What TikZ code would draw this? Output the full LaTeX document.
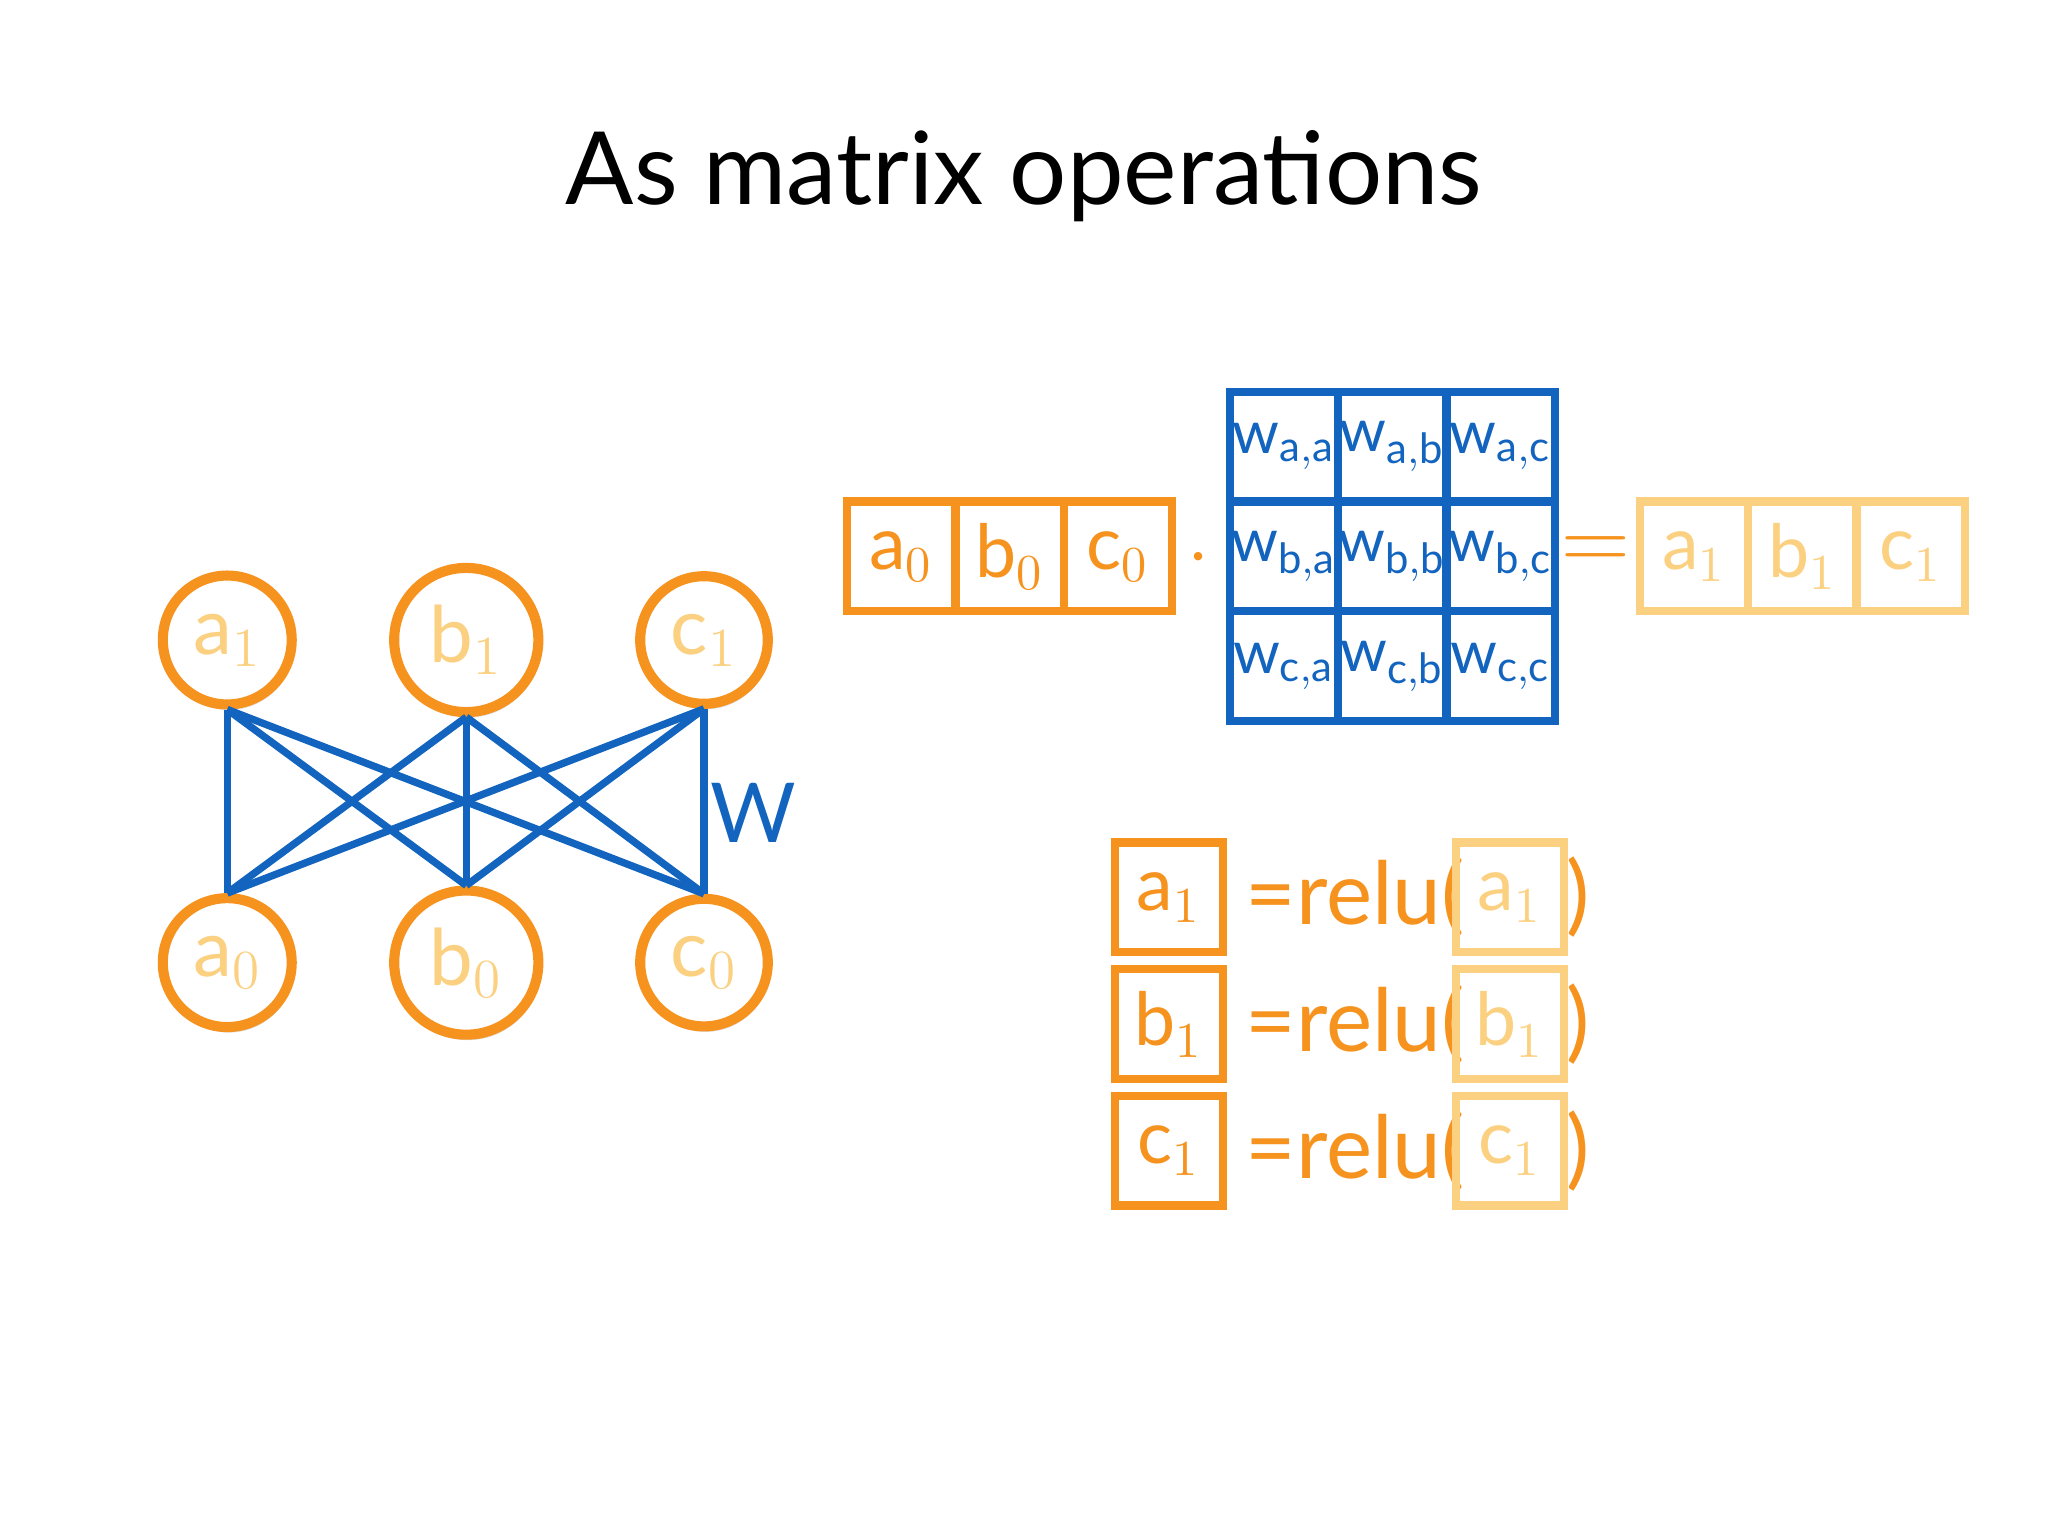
\documentclass[tikz,border=0pt]{standalone}
\usepackage{fontspec}
\setmainfont{Lato}
\usetikzlibrary{shadows}
\definecolor{orng}{RGB}{246,146,30}
\definecolor{lorng}{RGB}{251,208,128}
\definecolor{wblue}{RGB}{18,100,190}
\tikzset{
  unit/.style={draw=orng, line width=2.2pt, circle, fill=white, minimum size=0.94cm,
    text=lorng, font=\fontsize{17}{17}\selectfont, drop shadow={opacity=0.25, shadow xshift=0.4pt, shadow yshift=-1.2pt}},
  cell/.style={draw=orng, line width=1.8pt, minimum width=0.83cm, minimum height=0.84cm,
    text=orng, font=\fontsize{16}{16}\selectfont, inner sep=0pt},
  lcell/.style={cell, draw=lorng, text=lorng},
  wcell/.style={draw=wblue, line width=1.8pt, minimum width=0.83cm, minimum height=0.84cm,
    text=wblue, font=\fontsize{13}{13}\selectfont, inner sep=0pt},
  wire/.style={draw=wblue, line width=1.6pt},
  relu/.style={text=orng, font=\fontsize{19}{19}\selectfont, inner sep=0pt}
}
\begin{document}
\begin{tikzpicture}[x=0.01cm, y=-0.01cm]
\useasboundingbox (0,0) rectangle (1568,1176);
\node (title) at (784,135) {\fontsize{22}{22}\selectfont As matrix operations};
% network
\foreach \n/\x in {a/174,b/357,c/539} {
    \node[unit] (\n1) at (\x,490) {$\mathrm{\n}_1$};
    \node[unit] (\n0) at (\x,737) {$\mathrm{\n}_0$};
}
\foreach \s in {a,b,c} {
    \foreach \t in {a,b,c} {
        \draw[wire] (\s0.north) -- (\t1.south);
    }
}
\node[text=wblue, font=\fontsize{18}{18}\selectfont] (w) at (577,622) {W};
% row vector times matrix
\foreach \n/\x in {a/690,b/773,c/856} {
    \node[cell] (v\n) at (\x,426) {$\mathrm{\n}_0$};
    \node[lcell] (r\n) at (\x+607,426) {$\mathrm{\n}_1$};
}
\node[orng, font=\fontsize{16}{16}\selectfont] (dot) at (918,428) {$\cdot$};
\foreach \r/\y in {a/342,b/426,c/510} {
    \foreach \c/\x in {a/983,b/1066,c/1149} {
        \node[wcell] (m\r\c) at (\x,\y) {$\mathrm{w}_{\mathrm{\r,\c}}$};
    }
}
\node[text=orng, font=\fontsize{20}{20}\selectfont] (eq) at (1222,424) {$=$};
% relu rows
\foreach \n/\y in {a/687,b/784,c/881} {
    \node[cell] (o\n) at (895,\y) {$\mathrm{\n}_1$};
    \node[relu, anchor=west] (f\n) at (953,\y) {=relu(};
    \node[lcell] (i\n) at (1156,\y) {$\mathrm{\n}_1$};
    \node[relu, anchor=west] (p\n) at (1199,\y) {)};
}
\end{tikzpicture}
\end{document}
